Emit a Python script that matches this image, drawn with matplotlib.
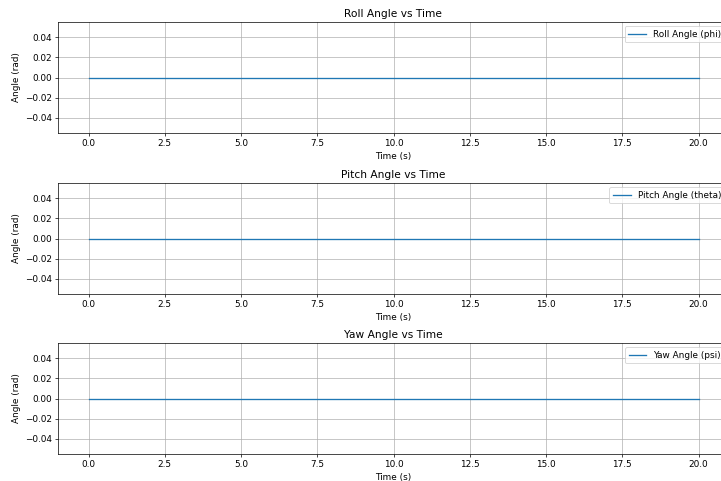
import matplotlib
matplotlib.use('Agg')
import matplotlib.pyplot as plt

# время и углы (все нули)
time = [0.0, 20.0]
roll = [0.0, 0.0]
pitch = [0.0, 0.0]
yaw = [0.0, 0.0]

titles = ['Roll Angle vs Time', 'Pitch Angle vs Time', 'Yaw Angle vs Time']
labels = ['Roll Angle (phi)', 'Pitch Angle (theta)', 'Yaw Angle (psi)']
series = [roll, pitch, yaw]

DPI = 63.5
W, H = 721, 481
fig = plt.figure(figsize=(W / DPI, H / DPI), dpi=DPI)
tops = [22, 183, 343]
for i in range(3):
    top = tops[i]
    ax = fig.add_axes([58 / W, 1 - (top + 111) / H, (729 - 58) / W, 111 / H])
    ax.plot(time, series[i], label=labels[i])
    ax.set_title(titles[i])
    ax.set_xlabel('Time (s)')
    ax.set_ylabel('Angle (rad)')
    ax.grid(True)
    ax.legend(loc='upper right')

fig.savefig('out.png', dpi=DPI)
